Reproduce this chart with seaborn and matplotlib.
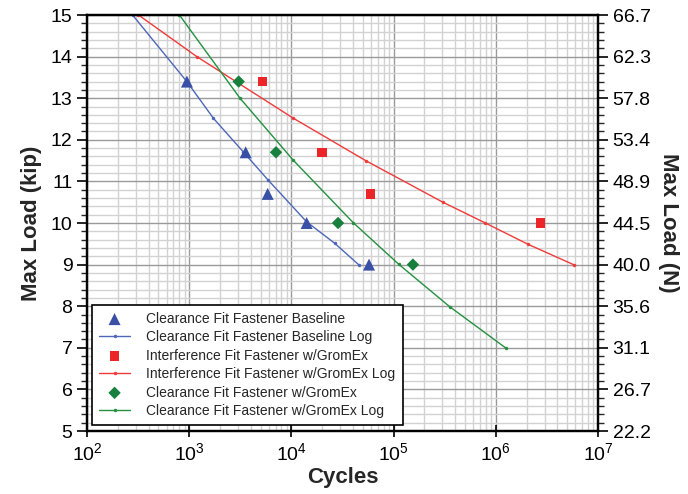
import numpy as np
import pandas as pd
import matplotlib
matplotlib.use('Agg')
import matplotlib.pyplot as plt
from matplotlib.ticker import LogLocator, MultipleLocator, NullFormatter, FixedLocator
import seaborn as sns

# ------------------------------------------------------------
# Test results (cycles to failure vs max load, kip)
# ------------------------------------------------------------
base_cycles = [950, 3570, 5860, 14100, 57500]
base_load = [13.4, 11.7, 10.7, 10.0, 9.0]

interf_cycles = [5230, 19900, 59700, 2720000]
interf_load = [13.4, 11.7, 10.7, 10.0]

grom_cycles = [3050, 7070, 28600, 154600]
grom_load = [13.4, 11.7, 10.0, 9.0]

# Fitted trend curves
base_fit_cycles = [279, 948, 1722, 3380, 5930, 14070, 26600, 45900]
base_fit_load = [15.0, 13.40, 12.52, 11.71, 11.03, 10.03, 9.51, 8.99]

interf_fit_cycles = [319, 1186, 10420, 54200, 303000, 776000, 2060000, 5870000]
interf_fit_load = [15.0, 14.0, 12.52, 11.49, 10.50, 10.01, 9.49, 8.99]

grom_fit_cycles = [802, 3140, 10420, 40200, 112000, 353000, 1245000]
grom_fit_load = [15.0, 13.0, 11.51, 10.01, 9.01, 7.99, 7.0]

kip_ticks = [5, 6, 7, 8, 9, 10, 11, 12, 13, 14, 15]
n_tick_labels = ['22.2', '26.7', '31.1', '35.6', '40.0', '44.5',
                 '48.9', '53.4', '57.8', '62.3', '66.7']

labels = ['Clearance Fit Fastener Baseline',
          'Clearance Fit Fastener Baseline Log',
          'Interference Fit Fastener w/GromEx',
          'Interference Fit Fastener w/GromEx Log',
          'Clearance Fit Fastener w/GromEx',
          'Clearance Fit Fastener w/GromEx Log']

blue_pt, blue_ln = '#3a4fa6', '#4d66b8'
red_pt, red_ln = '#ec2528', '#f03a3a'
green_pt, green_ln = '#17803c', '#24903f'

sns.set_theme(style='white')
plt.rcParams['font.family'] = ['Liberation Sans', 'DejaVu Sans']
plt.rcParams['mathtext.fontset'] = 'custom'
plt.rcParams['mathtext.rm'] = 'Liberation Sans'

fig = plt.figure(figsize=(6.88, 4.94), dpi=100)
ax = fig.add_axes([87 / 688, 1 - 431 / 494, (598 - 87) / 688, (431 - 15) / 494])

# --- fitted curves ---
line_kw = dict(marker='o', markersize=2.5, markeredgewidth=0, linewidth=1.0,
               sort=False, estimator=None, ax=ax)
sns.lineplot(x=base_fit_cycles, y=base_fit_load, color=blue_ln, label=labels[1], **line_kw)
sns.lineplot(x=interf_fit_cycles, y=interf_fit_load, color=red_ln, label=labels[3], **line_kw)
sns.lineplot(x=grom_fit_cycles, y=grom_fit_load, color=green_ln, label=labels[5], **line_kw)

# --- test points ---
sns.scatterplot(x=base_cycles, y=base_load, marker='^', s=75, color=blue_pt,
                edgecolor='none', label=labels[0], ax=ax, zorder=4)
sns.scatterplot(x=interf_cycles, y=interf_load, marker='s', s=45, color=red_pt,
                edgecolor='none', label=labels[2], ax=ax, zorder=4)
sns.scatterplot(x=grom_cycles, y=grom_load, marker='D', s=40, color=green_pt,
                edgecolor='none', label=labels[4], ax=ax, zorder=4)

ax.set_xscale('log')
ax.set_xlim(1e2, 1e7)
ax.set_ylim(5, 15)

ax.xaxis.set_major_locator(LogLocator(base=10, numticks=10))
ax.xaxis.set_minor_locator(LogLocator(base=10, subs=np.arange(2, 10), numticks=20))
ax.xaxis.set_minor_formatter(NullFormatter())
ax.yaxis.set_major_locator(FixedLocator(kip_ticks))
ax.yaxis.set_minor_locator(MultipleLocator(0.2))

ax.set_axisbelow(True)
ax.grid(which='major', color='#9a9a9a', linewidth=1.0)
ax.grid(which='minor', color='#d2d2d2', linewidth=1.0)

for sp in ax.spines.values():
    sp.set_color('black')
    sp.set_linewidth(1.6)

ax.tick_params(axis='x', which='major', direction='inout', length=8, width=1.2,
               labelsize=14, pad=4, colors='black')
ax.tick_params(axis='x', which='minor', direction='in', length=5, width=1.0)
ax.tick_params(axis='y', which='major', direction='out', length=7, width=1.2,
               labelsize=14, colors='black', left=True)
ax.tick_params(axis='y', which='minor', direction='out', length=4, width=1.0, left=True)
ax.tick_params(axis='x', bottom=True)

ax.set_xlabel('Cycles', fontsize=16, fontweight='bold', labelpad=2)
ax.set_ylabel('Max Load (kip)', fontsize=16, fontweight='bold', labelpad=6)

# --- secondary axis in N ---
ax2 = ax.twinx()
ax2.set_ylim(ax.get_ylim())
ax2.yaxis.set_major_locator(FixedLocator(kip_ticks))
ax2.set_yticklabels(n_tick_labels)
ax2.yaxis.set_minor_locator(MultipleLocator(0.2))
ax2.grid(False)
ax2.tick_params(axis='y', which='major', direction='out', length=7, width=1.2,
                labelsize=14, colors='black', right=True)
ax2.tick_params(axis='y', which='minor', direction='out', length=4, width=1.0, right=True)
for sp in ax2.spines.values():
    sp.set_color('black')
    sp.set_linewidth(1.6)
ax2.set_ylabel('Max Load (N)', fontsize=16, fontweight='bold', rotation=270, labelpad=20)

# --- legend in the reference order ---
handles, labs = ax.get_legend_handles_labels()
lookup = dict(zip(labs, handles))
leg = ax.legend([lookup[l] for l in labels], labels, loc='lower left',
                bbox_to_anchor=(0.005, 0.008), fontsize=10, frameon=True,
                fancybox=False, framealpha=1, edgecolor='black',
                labelspacing=0.32, handlelength=2.2, handletextpad=1.2,
                borderpad=0.5, borderaxespad=0.2)
leg.get_frame().set_linewidth(1.2)
leg.set_zorder(10)

fig.savefig('out.png', dpi=100)
